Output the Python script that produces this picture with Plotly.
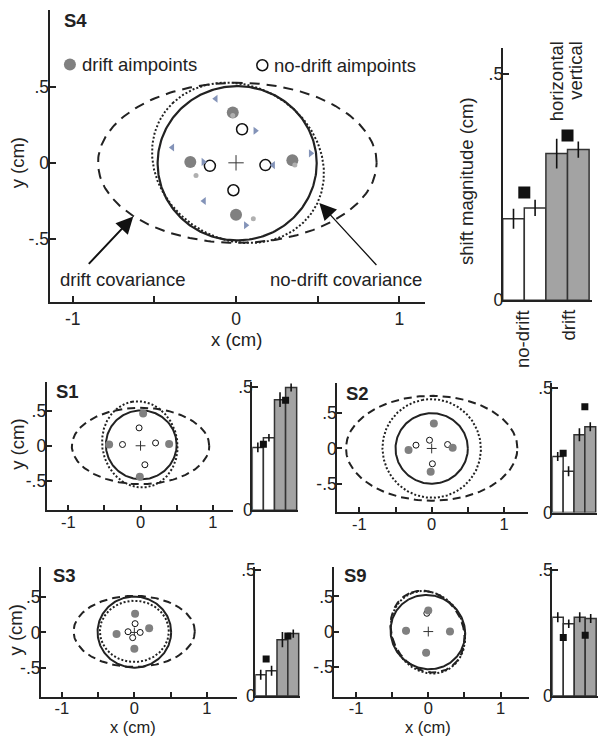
import numpy as np
import plotly.graph_objects as go

W, H = 605, 747

# ---------------- data ----------------
# bar categories: no-drift (horizontal, vertical), drift (horizontal, vertical)
bar_pos = [1, 2, 3, 4]
square_pos = [1.5, 3.5]
bar_colors = ["white", "white", "#a3a3a3", "#a3a3a3"]

# S4 aimpoints (cm)
s4_drift_x = [-0.02, -0.28, 0.345, 0.0]
s4_drift_y = [0.33, 0.005, 0.017, -0.34]
s4_nodrift_x = [0.037, -0.16, 0.18, -0.016]
s4_nodrift_y = [0.22, -0.02, -0.015, -0.18]
s4_small_x = [-0.02, -0.245, 0.36, 0.106]
s4_small_y = [0.31, -0.083, -0.015, -0.367]
s4_tri_left_x = [-0.124, -0.39, 0.227, -0.196]
s4_tri_left_y = [0.42, 0.10, -0.015, -0.25]
s4_tri_right_x = [0.118, 0.457, -0.2, 0.06]
s4_tri_right_y = [0.21, 0.062, 0.006, -0.41]

# ellipses: [cx, cy, semi-axis a, semi-axis b, angle deg]
s4_target = [0.007, -0.003, 0.487, 0.506, 0]
s4_drift_cov = [0.008, 0.0, 0.853, 0.525, 0]
s4_nodrift_cov = [0.012, 0.0, 0.56, 0.49, 135]

s1_target = [0.01, 0.013, 0.49, 0.49, 0]
s1_drift_cov = [0.0, -0.003, 0.952, 0.543, 0]
s1_nodrift_cov = [-0.01, 0.02, 0.615, 0.52, 100]
s1_drift_x = [0.036, -0.435, 0.396, -0.01]
s1_drift_y = [0.458, 0.018, 0.024, -0.44]
s1_nodrift_x = [-0.02, -0.25, 0.208, 0.06]
s1_nodrift_y = [0.254, 0.018, 0.04, -0.27]

s2_target = [0.0, 0.0, 0.5, 0.5, 0]
s2_drift_cov = [0.0, 0.003, 1.185, 0.743, 0]
s2_nodrift_cov = [0.0, 0.0, 0.70, 0.68, 100]
s2_drift_x = [0.03, -0.32, 0.29, -0.014]
s2_drift_y = [0.355, -0.02, 0.01, -0.33]
s2_nodrift_x = [-0.03, -0.217, 0.22, 0.01]
s2_nodrift_y = [0.117, 0.047, 0.056, -0.217]

s3_target = [0.0, 0.005, 0.507, 0.505, 0]
s3_drift_cov = [-0.002, 0.015, 0.835, 0.505, 0]
s3_nodrift_cov = [0.0, 0.015, 0.475, 0.435, 0]
s3_drift_x = [0.01, -0.245, 0.204, 0.0]
s3_drift_y = [0.264, -0.023, 0.06, -0.23]
s3_nodrift_x = [0.01, -0.087, 0.08, -0.023]
s3_nodrift_y = [0.125, 0.01, 0.0, -0.074]

s9_target = [-0.006, -0.007, 0.535, 0.51, 120]
s9_drift_cov = [-0.01, 0.0, 0.60, 0.49, 115]
s9_nodrift_cov = [-0.005, -0.01, 0.60, 0.50, 112]
s9_drift_x = [0.0, -0.308, 0.3, -0.03]
s9_drift_y = [0.3, 0.01, 0.0, -0.3]
s9_nodrift_x = [-0.02, -0.308, 0.3, -0.03]
s9_nodrift_y = [0.26, 0.01, 0.0, -0.3]

# shift magnitudes (cm): [no-drift H, no-drift V, drift H, drift V]
s4_shift = [0.18, 0.204, 0.324, 0.333]
s4_err = [0.022, 0.018, 0.033, 0.018]
s4_square = [0.238, 0.364]
s1_shift = [0.254, 0.293, 0.447, 0.496]
s1_err = [0.02, 0.015, 0.03, 0.016]
s1_square = [0.267, 0.445]
s2_shift = [0.225, 0.166, 0.313, 0.345]
s2_err = [0.018, 0.02, 0.026, 0.018]
s2_square = [0.238, 0.425]
s3_shift = [0.084, 0.10, 0.223, 0.247]
s3_err = [0.02, 0.02, 0.03, 0.016]
s3_square = [0.146, 0.238]
s9_shift = [0.312, 0.286, 0.312, 0.307]
s9_err = [0.02, 0.017, 0.02, 0.018]
s9_square = [0.232, 0.241]

xy_tickvals = [-1, -0.5, 0, 0.5, 1]
xy_ticktext = ["-1", "", "0", "", "1"]
y_tickvals = [-0.5, 0, 0.5]
y_ticktext = ["-.5", "0", ".5"]
bar_tickvals = [0, 0.5]
bar_ticktext = ["0", ".5"]

# ---------------- helpers ----------------
FONT = "Liberation Sans, Arial, sans-serif"
INK = "#222222"
TXT = 18.5
TICK = 17.5


def ellipse(p, n=240):
    cx, cy, a, b, ang = p
    t = np.linspace(0, 2 * np.pi, n)
    th = np.deg2rad(ang)
    x = cx + a * np.cos(t) * np.cos(th) - b * np.sin(t) * np.sin(th)
    y = cy + a * np.cos(t) * np.sin(th) + b * np.sin(t) * np.cos(th)
    return x, y


def dx(p0, p1):
    return [p0 / W, p1 / W]


def dy(top, bottom):
    return [1 - bottom / H, 1 - top / H]


fig = go.Figure()
layout = dict(
    width=W, height=H, margin=dict(l=0, r=0, t=0, b=0),
    paper_bgcolor="white", plot_bgcolor="white", showlegend=False,
    font=dict(family=FONT, size=TICK, color=INK),
)

axis_common = dict(showline=True, linecolor=INK, linewidth=2, showgrid=False,
                   zeroline=False, ticks="inside", tickcolor=INK, tickwidth=1.5,
                   tickfont=dict(family=FONT, size=TICK, color=INK), fixedrange=True)


def add_scatter_panel(idx, xdom, ydom, xr, yr, target, dcov, ndcov,
                      dxs, dys, ndxs, ndys, big=False):
    xa = "x" if idx == 1 else f"x{idx}"
    ya = "y" if idx == 1 else f"y{idx}"
    lw_solid = 2.2 if big else 2.0
    dash_d = "10px,7px" if big else "8px,5px"
    for p, dash, w in [(dcov, dash_d, 2.0), (ndcov, "2px,2px", 2.0), (target, "solid", lw_solid)]:
        ex, ey = ellipse(p)
        fig.add_trace(go.Scatter(x=ex, y=ey, mode="lines", xaxis=xa, yaxis=ya,
                                 line=dict(color=INK, width=w, dash=dash), hoverinfo="skip"))
    fig.add_trace(go.Scatter(x=[0], y=[0], mode="markers", xaxis=xa, yaxis=ya,
                             marker=dict(symbol="cross-thin", size=11 if big else 7,
                                         line=dict(color="#333", width=1))))
    fig.add_trace(go.Scatter(x=ndxs, y=ndys, mode="markers", xaxis=xa, yaxis=ya,
                             marker=dict(symbol="circle", size=11 if big else 6, color="white",
                                         line=dict(color="#111", width=1.5 if big else 1))))
    fig.add_trace(go.Scatter(x=dxs, y=dys, mode="markers", xaxis=xa, yaxis=ya,
                             marker=dict(symbol="circle", size=12 if big else 8, color="#808080",
                                         line=dict(width=0))))
    xkey = "xaxis" if idx == 1 else f"xaxis{idx}"
    ykey = "yaxis" if idx == 1 else f"yaxis{idx}"
    xfont = dict(family=FONT, size=TICK if big else 16.5, color=INK)
    layout[xkey] = dict(axis_common, domain=dx(*xdom), range=xr, anchor=ya,
                        tickvals=xy_tickvals, ticktext=xy_ticktext, ticklen=6 if big else 5,
                        tickfont=xfont, ticklabelstandoff=0 if big else -4)
    layout[ykey] = dict(axis_common, domain=dy(*ydom), range=yr, anchor=xa,
                        tickvals=y_tickvals, ticktext=y_ticktext, ticklen=6 if big else 5,
                        ticklabelstandoff=-5)


def add_bar_panel(idx, xdom, ydom, yr, vals, errs, sq, big=False):
    xa = f"x{idx}"
    ya = f"y{idx}"
    fig.add_trace(go.Bar(x=bar_pos, y=vals, width=1, xaxis=xa, yaxis=ya,
                         marker=dict(color=bar_colors, line=dict(color="#333", width=1.5)),
                         error_y=dict(type="data", array=errs, width=0,
                                      thickness=1.6, color="#111")))
    fig.add_trace(go.Scatter(x=square_pos, y=sq, mode="markers", xaxis=xa, yaxis=ya,
                             marker=dict(symbol="square", size=12 if big else 7, color="#111",
                                         line=dict(width=0))))
    layout[f"xaxis{idx}"] = dict(axis_common, domain=dx(*xdom), range=[0.5, 4.62],
                                 anchor=ya, ticks="", showticklabels=False)
    layout[f"yaxis{idx}"] = dict(axis_common, domain=dy(*ydom), range=yr, anchor=xa,
                                 tickvals=bar_tickvals, ticktext=bar_ticktext, ticklen=6,
                                 ticklabelstandoff=-6)


# S4 main
add_scatter_panel(1, (49.5, 425), (3.3, 301.7), [-1.142, 1.157], [-0.912, 1.001],
                  s4_target, s4_drift_cov, s4_nodrift_cov,
                  s4_drift_x, s4_drift_y, s4_nodrift_x, s4_nodrift_y, big=True)
fig.add_trace(go.Scatter(x=s4_small_x, y=s4_small_y, mode="markers",
                         marker=dict(size=5, color="#b0b0b0")))
fig.add_trace(go.Scatter(x=s4_tri_left_x, y=s4_tri_left_y, mode="markers",
                         marker=dict(symbol="triangle-left", size=7, color="#8393b8")))
fig.add_trace(go.Scatter(x=s4_tri_right_x, y=s4_tri_right_y, mode="markers",
                         marker=dict(symbol="triangle-right", size=7, color="#8393b8")))
# legend markers
fig.add_trace(go.Scatter(x=[-1.017], y=[0.645], mode="markers",
                         marker=dict(size=12, color="#808080")))
fig.add_trace(go.Scatter(x=[0.161], y=[0.64], mode="markers",
                         marker=dict(size=11, color="white", line=dict(color="#111", width=1.5))))
add_bar_panel(2, (502.7, 591.7), (41.7, 300), [0, 0.558], s4_shift, s4_err, s4_square, big=True)

# small panels
add_scatter_panel(3, (46.7, 233.3), (383.3, 515), [-1.30, 1.285], [-0.917, 0.912],
                  s1_target, s1_drift_cov, s1_nodrift_cov,
                  s1_drift_x, s1_drift_y, s1_nodrift_x, s1_nodrift_y)
add_bar_panel(4, (252.3, 298), (383.3, 515), [0, 0.52], s1_shift, s1_err, s1_square)

add_scatter_panel(5, (337.3, 528.3), (385, 516.7), [-1.305, 1.336], [-0.90, 0.925],
                  s2_target, s2_drift_cov, s2_nodrift_cov,
                  s2_drift_x, s2_drift_y, s2_nodrift_x, s2_nodrift_y)
add_bar_panel(6, (552.3, 597), (385, 517.3), [0, 0.52], s2_shift, s2_err, s2_square)

add_scatter_panel(7, (41, 236.7), (573.3, 705.7), [-1.286, 1.41], [-0.912, 0.926],
                  s3_target, s3_drift_cov, s3_nodrift_cov,
                  s3_drift_x, s3_drift_y, s3_nodrift_x, s3_nodrift_y)
add_bar_panel(8, (255.3, 300), (573.3, 705), [0, 0.51], s3_shift, s3_err, s3_square)

add_scatter_panel(9, (334.3, 529.3), (573.3, 705.7), [-1.30, 1.397], [-0.926, 0.915],
                  s9_target, s9_drift_cov, s9_nodrift_cov,
                  s9_drift_x, s9_drift_y, s9_nodrift_x, s9_nodrift_y)
add_bar_panel(10, (552.3, 597.5), (573.3, 705), [0, 0.51], s9_shift, s9_err, s9_square)

# ---------------- annotations ----------------
ann = []


def txt(text, px, py, xanchor="center", yanchor="middle", angle=0, size=TXT):
    ann.append(dict(text=text, x=px / W, y=1 - py / H, xref="paper", yref="paper",
                    xanchor=xanchor, yanchor=yanchor, textangle=angle, showarrow=False,
                    font=dict(family=FONT, size=size, color=INK)))


txt("<b>S4</b>", 62, 14, xanchor="left")
txt("drift aimpoints", 80, 59, xanchor="left")
txt("no-drift aimpoints", 272, 60, xanchor="left")
txt("drift covariance", 122, 279)
txt("no-drift covariance", 346, 279)
txt("x (cm)", 236, 340)
txt("y (cm)", 17, 160, angle=-90)
txt("shift magnitude (cm)", 467, 178, angle=-90)
txt("horizontal", 556, 33, yanchor="top", angle=-90)
txt("vertical", 576, 33, yanchor="top", angle=-90)
txt("no-drift", 523, 308, yanchor="top", angle=-90)
txt("drift", 568, 308, yanchor="top", angle=-90)

txt("<b>S1</b>", 54, 393, xanchor="left")
txt("<b>S2</b>", 344, 395, xanchor="left")
txt("<b>S3</b>", 51, 582, xanchor="left")
txt("<b>S9</b>", 342, 582, xanchor="left")
txt("y (cm)", 18, 448, angle=-90)
txt("y (cm)", 15, 638, angle=-90)
txt("x (cm)", 133, 737, size=16.5)
txt("x (cm)", 428, 737, size=16.5)

# arrows
ann.append(dict(x=-0.629, y=-0.353, ax=-0.91, ay=-0.673, xref="x", yref="y",
                axref="x", ayref="y", showarrow=True, arrowhead=2, arrowsize=1.7,
                arrowwidth=2, arrowcolor="#111", text=""))
ann.append(dict(x=0.51, y=-0.263, ax=0.868, ay=-0.68, xref="x", yref="y",
                axref="x", ayref="y", showarrow=True, arrowhead=2, arrowsize=2.6,
                arrowwidth=1.3, arrowcolor="#111", text=""))

layout["annotations"] = ann
fig.update_layout(**layout)
fig.write_html("out.html", config={"displayModeBar": False},
               post_script="document.body.style.margin='0';document.body.style.overflow='hidden';")
